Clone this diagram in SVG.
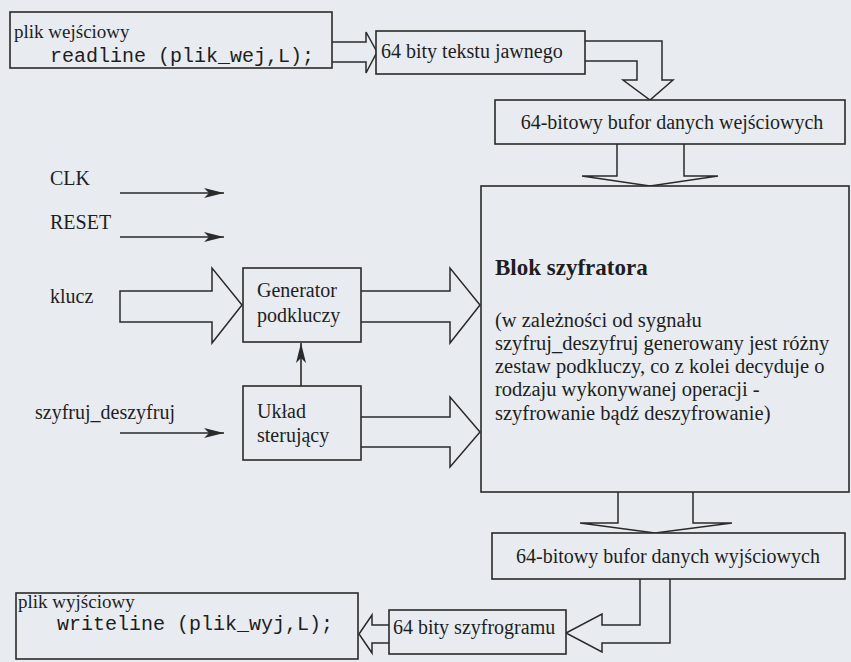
<svg xmlns="http://www.w3.org/2000/svg" width="851" height="662" viewBox="0 0 851 662">
<defs>
<style>
.bx{fill:#e8ecf0;stroke:#2a2a2a;stroke-width:1.6}
.fa{fill:#e8ecf0;stroke:#2a2a2a;stroke-width:1.5;stroke-linejoin:miter}
.ln{stroke:#2a2a2a;stroke-width:1.6;fill:none}
.t{font-family:"Liberation Serif","Times New Roman",serif;font-size:20px;fill:#1e1e1e}
.s{font-family:"Liberation Serif","Times New Roman",serif;font-size:19px;fill:#1e1e1e}
.m{font-family:"Liberation Mono","Courier New",monospace;font-size:20px;fill:#1e1e1e}
.b{font-family:"Liberation Serif","Times New Roman",serif;font-size:23px;font-weight:bold;fill:#1e1e1e}
.p{font-family:"Liberation Serif","Times New Roman",serif;font-size:20.5px;fill:#1e1e1e}
</style>
<marker id="ah" viewBox="0 0 20 10" refX="20" refY="5" markerWidth="20" markerHeight="10" markerUnits="userSpaceOnUse" orient="auto">
<path d="M0,0 L20,5 L0,10 L5,5 Z" fill="#2a2a2a"/>
</marker>
</defs>
<rect x="0" y="0" width="851" height="662" fill="#e8ecf0"/>
<g id="connectors">
<polyline class="fa" points="332,42 366,42 366,32 377,52 366,73 366,62 332,62"/>
<polyline class="fa" points="585,41 662,41 662,80 673,80 650,100 623,80 637,80 637,61 585,61"/>
<polyline class="fa" points="617,144 617,176 582,176 650,186 718,176 684,176 684,144"/>
<polygon class="fa" points="120,291 212,291 212,268 242,305 212,343 212,322 120,322"/>
<polyline class="fa" points="361,291 450,291 450,268 480,305 450,343 450,322 361,322"/>
<polyline class="fa" points="361,417 450,417 450,397 480,432 450,467 450,447 361,447"/>
<polyline class="fa" points="618,492 618,523 580,523 655,533 732,523 693,523 693,492"/>
<polyline class="fa" points="640,579 640,625 602,625 602,614 566,633 602,652 602,643 670,643 670,579"/>
<polyline class="fa" points="389,625 372,625 372,615 359,634 372,653 372,643 389,643"/>
<line class="ln" x1="120" y1="193" x2="224" y2="193" marker-end="url(#ah)"/>
<line class="ln" x1="120" y1="237" x2="224" y2="237" marker-end="url(#ah)"/>
<line class="ln" x1="120" y1="433" x2="224" y2="433" marker-end="url(#ah)"/>
<line class="ln" x1="301" y1="386" x2="301" y2="343" marker-end="url(#ah)"/>
</g>
<g id="plik_wej">
<rect class="bx" x="10" y="12" width="322" height="56"/>
<text class="s" x="14" y="38">plik wejściowy</text>
<text class="m" x="50" y="62">readline (plik_wej,L);</text>
</g>
<g id="bity_jawne">
<rect class="bx" x="376" y="31" width="209" height="43"/>
<text class="t" x="381" y="58">64 bity tekstu jawnego</text>
</g>
<g id="bufor_wej">
<rect class="bx" x="495" y="100" width="350" height="44"/>
<text class="t" x="672" y="129" text-anchor="middle">64-bitowy bufor danych wejściowych</text>
</g>
<g id="clk"><text class="t" x="50" y="185">CLK</text></g>
<g id="reset"><text class="t" x="50" y="229">RESET</text></g>
<g id="klucz"><text class="t" x="50" y="303">klucz</text></g>
<g id="szyfruj_deszyfruj"><text class="t" x="35" y="419">szyfruj_deszyfruj</text></g>
<g id="generator">
<rect class="bx" x="243" y="268" width="118" height="74"/>
<text class="t" x="257" y="297">Generator</text>
<text class="t" x="257" y="322">podkluczy</text>
</g>
<g id="uklad">
<rect class="bx" x="243" y="386" width="118" height="74"/>
<text class="t" x="257" y="418">Układ</text>
<text class="t" x="257" y="442">sterujący</text>
</g>
<g id="blok">
<rect class="bx" x="481" y="186" width="368" height="306"/>
<text class="b" x="495" y="275">Blok szyfratora</text>
<text class="p" x="495" y="327">(w zależności od sygnału</text>
<text class="p" x="495" y="350">szyfruj_deszyfruj generowany jest różny</text>
<text class="p" x="495" y="373">zestaw podkluczy, co z kolei decyduje o</text>
<text class="p" x="495" y="396">rodzaju wykonywanej operacji -</text>
<text class="p" x="495" y="420">szyfrowanie bądź deszyfrowanie)</text>
</g>
<g id="bufor_wyj">
<rect class="bx" x="492" y="533" width="353" height="46"/>
<text class="t" x="668" y="563" text-anchor="middle">64-bitowy bufor danych wyjściowych</text>
</g>
<g id="bity_szyfrogram">
<rect class="bx" x="389" y="610" width="177" height="44"/>
<text class="t" x="393" y="634">64 bity szyfrogramu</text>
</g>
<g id="plik_wyj">
<rect class="bx" x="16" y="593" width="342" height="66"/>
<text class="s" x="18" y="608">plik wyjściowy</text>
<text class="m" x="57" y="630">writeline (plik_wyj,L);</text>
</g>
</svg>
